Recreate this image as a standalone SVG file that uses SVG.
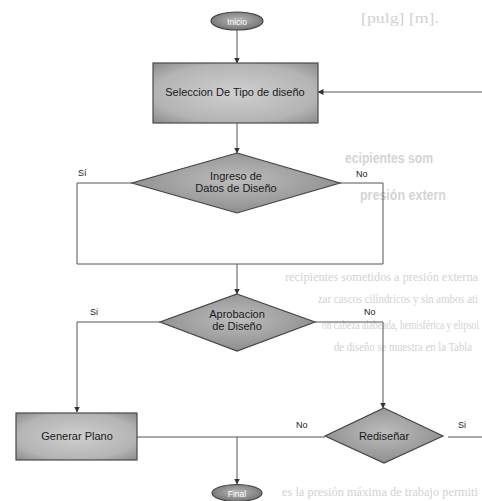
<svg xmlns="http://www.w3.org/2000/svg" width="482" height="501" viewBox="0 0 482 501">
<defs>
<style>
.ghost{font-family:"Liberation Serif",serif;font-size:13px;fill:#d2d2d2}
.ghostb{font-family:"Liberation Sans",sans-serif;font-size:14px;font-weight:bold;fill:#d4d4d4}
.lbl{font-family:"Liberation Sans",Arial,sans-serif;font-size:9px;fill:#222}
.ntx{font-family:"Liberation Sans",Arial,sans-serif;font-size:11px;fill:#1a1a1a;text-anchor:middle}
.edge{fill:none;stroke:#555;stroke-width:1}
.box{fill:url(#gbox);stroke:#4a4a4a;stroke-width:1.2}
.dia{fill:url(#gdia);stroke:#444;stroke-width:1.2}
.ell{fill:url(#gell);stroke:#444;stroke-width:1.2}
</style>
<radialGradient id="gbox" cx="50%" cy="50%" r="70%">
<stop offset="0" stop-color="#cfcfcf"/><stop offset="0.7" stop-color="#b4b4b4"/><stop offset="1" stop-color="#8c8c8c"/>
</radialGradient>
<radialGradient id="gdia" cx="50%" cy="45%" r="60%">
<stop offset="0" stop-color="#bdbdbd"/><stop offset="1" stop-color="#8a8a8a"/>
</radialGradient>
<radialGradient id="gell" cx="50%" cy="45%" r="60%">
<stop offset="0" stop-color="#b8b8b8"/><stop offset="1" stop-color="#6f6f6f"/>
</radialGradient>
<marker id="arr" markerWidth="6" markerHeight="6" refX="5.5" refY="3" orient="auto" markerUnits="userSpaceOnUse">
<path d="M0,0 L6,3 L0,6 Z" fill="#333"/>
</marker>
</defs>
<rect width="482" height="501" fill="#ffffff"/>
<g id="ghost-text">
<text class="ghost" x="361" y="23" style="font-size:15px" textLength="78" lengthAdjust="spacingAndGlyphs">[pulg] [m].</text>
<text class="ghostb" x="345" y="163" textLength="88" lengthAdjust="spacingAndGlyphs">ecipientes som</text>
<text class="ghostb" x="360" y="200" textLength="86" lengthAdjust="spacingAndGlyphs">presión extern</text>
<text class="ghost" x="285" y="281" textLength="193" lengthAdjust="spacingAndGlyphs">recipientes sometidos a presión externa</text>
<text class="ghost" x="318" y="303" textLength="160" lengthAdjust="spacingAndGlyphs">zar cascos cilíndricos y sin ambos ati</text>
<text class="ghost" x="322" y="329" textLength="157" lengthAdjust="spacingAndGlyphs">on cabeza alabeada, hemisférica y elipsoi</text>
<text class="ghost" x="334" y="351" textLength="138" lengthAdjust="spacingAndGlyphs">de diseño se muestra en la Tabla</text>
<text class="ghost" x="282" y="496" textLength="196" lengthAdjust="spacingAndGlyphs">es la presión máxima de trabajo permiti</text>
</g>
<g id="connectors">
<line class="edge" x1="237" y1="30" x2="237" y2="63" marker-end="url(#arr)"/>
<line class="edge" x1="482" y1="92" x2="318" y2="92" marker-end="url(#arr)"/>
<line class="edge" x1="237" y1="123" x2="237" y2="153" marker-end="url(#arr)"/>
<polyline class="edge" points="132,183 77,183 77,264 383,264 383,183 340,183"/>
<line class="edge" x1="237" y1="264" x2="237" y2="294" marker-end="url(#arr)"/>
<polyline class="edge" points="160,322 77,322 77,412" marker-end="url(#arr)"/>
<polyline class="edge" points="315,322 383,322 383,408" marker-end="url(#arr)"/>
<line class="edge" x1="137" y1="437" x2="325" y2="437"/>
<line class="edge" x1="237" y1="437" x2="237" y2="484" marker-end="url(#arr)"/>
<line class="edge" x1="448" y1="437" x2="482" y2="437"/>
<text class="lbl" x="78" y="176">Sí</text>
<text class="lbl" x="356" y="177">No</text>
<text class="lbl" x="90" y="315">Si</text>
<text class="lbl" x="364" y="315">No</text>
<text class="lbl" x="296" y="428">No</text>
<text class="lbl" x="458" y="428">Si</text>
</g>
<g id="inicio">
<ellipse class="ell" cx="237" cy="21" rx="26" ry="9"/>
<text class="ntx" x="237" y="24.5" style="fill:#fff;font-size:8.5px">Inicio</text>
</g>
<g id="seleccion">
<rect class="box" x="153" y="63" width="165" height="60"/>
<text class="ntx" x="235" y="96">Seleccion De Tipo de diseño</text>
</g>
<g id="ingreso">
<polygon class="dia" points="237,153 340,183 237,213 132,183"/>
<text class="ntx" x="236" y="180">Ingreso de</text>
<text class="ntx" x="236" y="192">Datos de Diseño</text>
</g>
<g id="aprobacion">
<polygon class="dia" points="237,294 315,322 237,351 160,322"/>
<text class="ntx" x="237" y="318">Aprobacion</text>
<text class="ntx" x="237" y="330">de Diseño</text>
</g>
<g id="generar">
<rect class="box" x="16" y="413" width="121" height="47"/>
<text class="ntx" x="77" y="440">Generar Plano</text>
</g>
<g id="redisenar">
<polygon class="dia" points="384,408 443,436 384,463 325,436"/>
<text class="ntx" x="384" y="440">Rediseñar</text>
</g>
<g id="final">
<ellipse class="ell" cx="237" cy="493" rx="25" ry="8.5"/>
<text class="ntx" x="237" y="496.5" style="fill:#fff;font-size:8.5px">Final</text>
</g>
</svg>
